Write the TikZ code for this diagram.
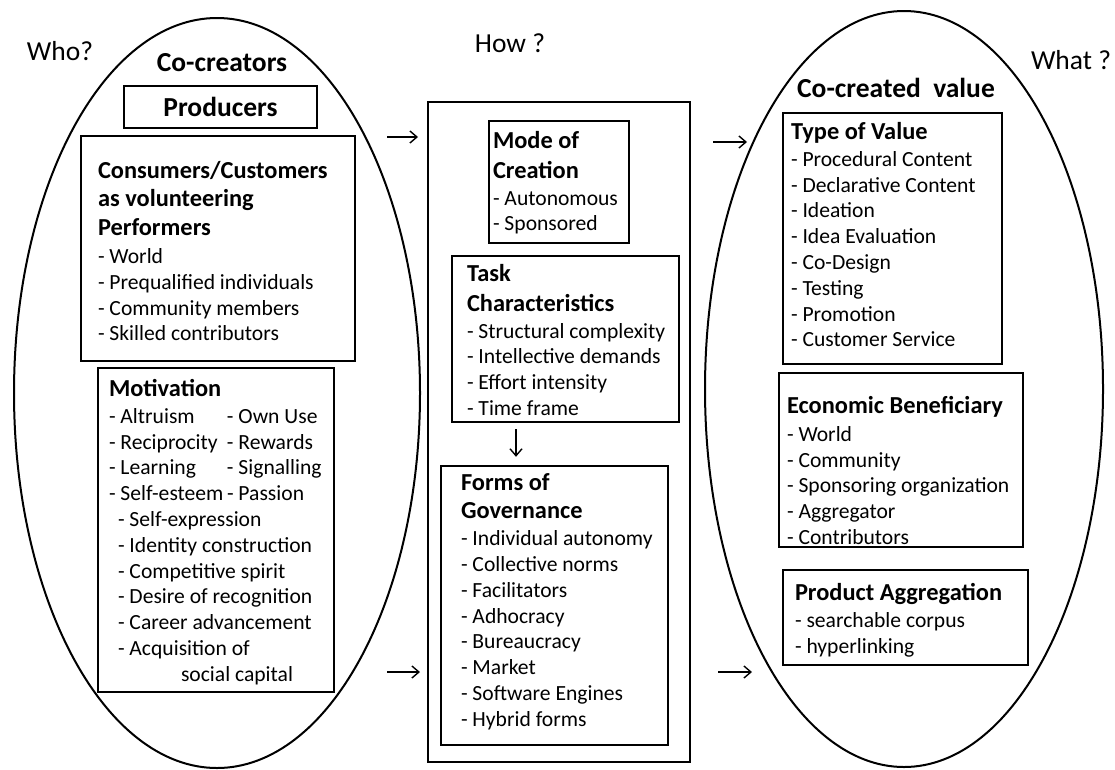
\documentclass[tikz,border=0pt]{standalone}
\usepackage{fontspec}
\setmainfont{Carlito}
\usetikzlibrary{shapes.geometric,positioning,arrows.meta}

\newcommand{\bodyfont}{\fontsize{21.6}{25.8}\selectfont}
\newcommand{\head}[1]{\strut\textbf{\fontsize{24.4}{25.8}\selectfont #1}}
\newcommand{\twocol}[2]{\makebox[118pt][l]{#1}#2}

\begin{document}
\begin{tikzpicture}
  [x=1pt,y=-1pt,
   box/.style={draw,line width=2.4pt,inner sep=0pt},
   txt/.style={anchor=north west,inner sep=0pt,align=left,font=\bodyfont},
   oval/.style={draw,ellipse,line width=2pt,inner sep=0pt},
   arr/.style={-{Straight Barb[length=7pt,width=12pt]},line width=1.4pt},
   ask/.style={font=\fontsize{27.5}{30}\selectfont},
   title/.style={font=\fontsize{27.5}{30}\bfseries\selectfont}]
  \useasboundingbox (0,0) rectangle (1115,769);

  % who / how / what
  \node[oval,minimum width=406pt,minimum height=750pt] (who) at (217,393) {};
  \node[box,minimum width=262pt,minimum height=660pt] (how) at (559,432) {};
  \node[oval,minimum width=398pt,minimum height=756pt] (what) at (904,389) {};
  \node[ask] (whoq) at (60,51) {Who?};
  \node[ask] (howq) at (510,43) {How ?};
  \node[ask] (whatq) at (1071,60) {What ?};

  % co-creators
  \node[title] (cocr) at (222,63) {Co-creators};
  \node[box,title,minimum width=193pt,minimum height=42pt] (prod) at (220.5,107) {Producers};
  \node[box,minimum width=274pt,minimum height=225pt] (cons) at (218,248.5) {};
  \node[txt,below right=25pt and 18pt of cons.north west] (consTxt)
    {\head{Consumers/Customers}\\[3pt]\head{as volunteering}\\[3pt]\head{Performers}\\[2pt]
     - World\\- Prequalified individuals\\- Community members\\- Skilled contributors};
  \node[box,minimum width=236pt,minimum height=324pt] (motiv) at (216,530) {};
  \node[txt,below right=11.5pt and 12pt of motiv.north west] (motivTxt)
    {\head{Motivation}\\[1pt]
     \twocol{- Altruism}{- Own Use}\\
     \twocol{- Reciprocity}{- Rewards}\\
     \twocol{- Learning}{- Signalling}\\
     \twocol{- Self-esteem}{- Passion}\\
     \hspace*{9pt}- Self-expression\\
     \hspace*{9pt}- Identity construction\\
     \hspace*{9pt}- Competitive spirit\\
     \hspace*{9pt}- Desire of recognition\\
     \hspace*{9pt}- Career advancement\\
     \hspace*{9pt}- Acquisition of\\
     \hspace*{72pt}social capital};

  % how it is done
  \node[box,minimum width=140pt,minimum height=122pt] (mode) at (559,182) {};
  \node[txt,below right=10.5pt and 5pt of mode.north west] (modeTxt)
    {\head{Mode of}\\[4pt]\head{Creation}\\[1pt]- Autonomous\\- Sponsored};
  \node[box,minimum width=227pt,minimum height=166pt] (task) at (565.5,339) {};
  \node[txt,below right=8.5pt and 16pt of task.north west] (taskTxt)
    {\head{Task}\\[4pt]\head{Characteristics}\\[1pt]
     - Structural complexity\\- Intellective demands\\- Effort intensity\\- Time frame};
  \node[box,minimum width=227pt,minimum height=279pt] (forms) at (554.5,605.5) {};
  \node[txt,below right=7pt and 21pt of forms.north west] (formsTxt)
    {\head{Forms of}\\[3pt]\head{Governance}\\[1pt]
     - Individual autonomy\\- Collective norms\\- Facilitators\\- Adhocracy\\
     - Bureaucracy\\- Market\\- Software Engines\\- Hybrid forms};

  % co-created value
  \node[title] (value) at (896,88) {Co-created~ value};
  \node[box,minimum width=219pt,minimum height=251pt] (type) at (892.5,238.5) {};
  \node[txt,below right=9.5pt and 9pt of type.north west] (typeTxt)
    {\head{Type of Value}\\[1pt]
     - Procedural Content\\- Declarative Content\\- Ideation\\- Idea Evaluation\\
     - Co-Design\\- Testing\\- Promotion\\- Customer Service};
  \node[box,minimum width=244pt,minimum height=174pt] (econ) at (901,460) {};
  \node[txt,below right=23.5pt and 9pt of econ.north west] (econTxt)
    {\head{Economic Beneficiary}\\[2pt]
     - World\\- Community\\- Sponsoring organization\\- Aggregator\\- Contributors};
  \node[box,minimum width=245pt,minimum height=95pt] (aggr) at (905.5,617.5) {};
  \node[txt,below right=13.5pt and 13pt of aggr.north west] (aggrTxt)
    {\head{Product Aggregation}\\[1pt]
     - searchable corpus\\- hyperlinking};

  % arrows between the columns
  \coordinate (l1) at (387,137);  \coordinate (l2) at (418,137);
  \coordinate (l3) at (387,672);  \coordinate (l4) at (420,672);
  \coordinate (r1) at (713,142);  \coordinate (r2) at (747,142);
  \coordinate (r3) at (718,672);  \coordinate (r4) at (752,672);
  \coordinate (dn) at (516,440);
  \draw[arr] (l1) -- (l2);
  \draw[arr] (l3) -- (l4);
  \draw[arr] (r1) -- (r2);
  \draw[arr] (r3) -- (r4);
  \draw[arr,shorten <=6pt,shorten >=8pt] (dn |- task.south) -- (dn |- forms.north);
\end{tikzpicture}
\end{document}
